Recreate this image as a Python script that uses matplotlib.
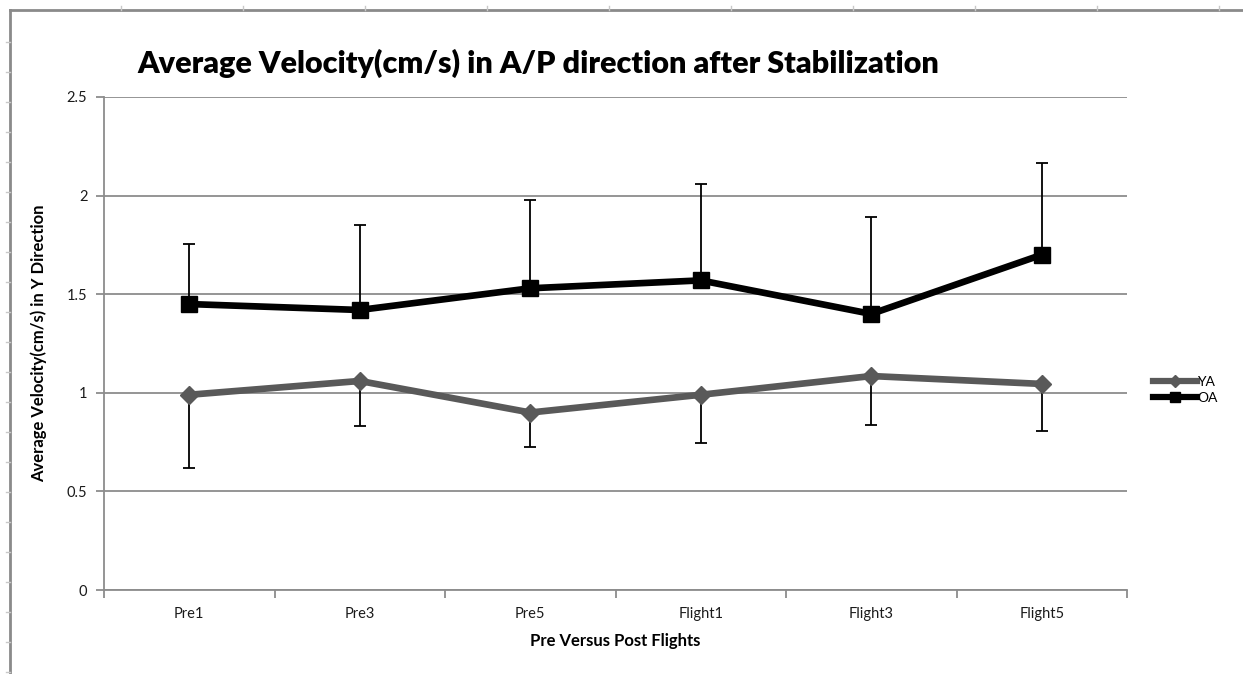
import numpy as np
import matplotlib.pyplot as plt
from matplotlib.lines import Line2D

plt.rcParams['font.family'] = ['Lato', 'DejaVu Sans']

categories = ['Pre1', 'Pre3', 'Pre5', 'Flight1', 'Flight3', 'Flight5']

ya_mean = [0.99, 1.06, 0.90, 0.99, 1.085, 1.045]
ya_err_low = [0.37, 0.23, 0.175, 0.245, 0.25, 0.24]

oa_mean = [1.45, 1.42, 1.53, 1.57, 1.40, 1.70]
oa_err_up = [0.305, 0.43, 0.45, 0.49, 0.49, 0.465]

y_ticks = [0, 0.5, 1, 1.5, 2, 2.5]
y_tick_labels = ['0', '0.5', '1', '1.5', '2', '2.5']

grid_col = '#8c8c8c'
ya_col = '#595959'
oa_col = '#000000'

fig = plt.figure(figsize=(12.43, 6.74), dpi=100)
ax = fig.add_axes([104 / 1243, 1 - 590 / 674, (1127 - 104) / 1243, (590 - 97) / 674])

x = np.arange(len(categories))
zeros = np.zeros(len(categories))

# error bars first so the markers sit on top of them
ax.errorbar(x, oa_mean, yerr=[zeros, oa_err_up], fmt='none', ecolor='black',
            elinewidth=1.3, capsize=4, capthick=1.3, zorder=3)
ax.errorbar(x, ya_mean, yerr=[ya_err_low, zeros], fmt='none', ecolor='black',
            elinewidth=1.3, capsize=4, capthick=1.3, zorder=3)

ax.plot(x, ya_mean, color=ya_col, lw=4.8, marker='D', ms=9, mfc=ya_col, mec=ya_col,
        zorder=4, label='YA')
ax.plot(x, oa_mean, color=oa_col, lw=4.8, marker='s', ms=11, mfc=oa_col, mec=oa_col,
        zorder=5, label='OA')

ax.set_xlim(-0.5, len(categories) - 0.5)
ax.set_ylim(0, 2.5)

ax.set_yticks(y_ticks)
ax.set_yticklabels(y_tick_labels)
ax.set_xticks(np.arange(-0.5, len(categories), 1))
ax.set_xticklabels([])
ax.set_xticks(x, minor=True)
ax.set_xticklabels(categories, minor=True)

ax.tick_params(axis='x', which='major', length=6, width=1.3, color=grid_col)
ax.tick_params(axis='x', which='minor', length=0, pad=12, labelsize=10.5, labelcolor='#1a1a1a')
ax.tick_params(axis='y', length=6, width=1.3, color=grid_col, labelsize=10.5, labelcolor='#1a1a1a', pad=6)

ax.yaxis.grid(True, color=grid_col, lw=1.3)
ax.set_axisbelow(True)
for side in ('top', 'right'):
    ax.spines[side].set_visible(False)
for side in ('left', 'bottom'):
    ax.spines[side].set_color(grid_col)
    ax.spines[side].set_linewidth(1.3)

ax.set_ylabel('Average Velocity(cm/s) in Y Direction', fontsize=12, fontweight='bold', labelpad=14)
ax.set_xlabel('Pre Versus Post Flights', fontsize=12, fontweight='bold', labelpad=9)

fig.text(137 / 1243, 1 - 63 / 674, 'Average Velocity(cm/s) in A/P direction after Stabilization',
         fontsize=22, fontweight='heavy', ha='left', va='center')

handles = [
    Line2D([], [], color=ya_col, lw=4.5, marker='D', ms=6, mfc=ya_col, mec=ya_col),
    Line2D([], [], color=oa_col, lw=4.5, marker='s', ms=7, mfc=oa_col, mec=oa_col),
]
fig.legend(handles, ['YA', 'OA'], loc='center left', bbox_to_anchor=(1140 / 1243, 1 - 390 / 674),
           frameon=False, fontsize=10, handlelength=3.2, handletextpad=0.0, labelspacing=0.3)

# spreadsheet frame around the chart
frame_col = '#8a8a8a'
fig.add_artist(Line2D([10 / 1243, 10 / 1243], [0, 1 - 10 / 674], color=frame_col, lw=2))
fig.add_artist(Line2D([10 / 1243, 1], [1 - 10 / 674, 1 - 10 / 674], color=frame_col, lw=2))
for tx in np.arange(121, 1243, 122):
    fig.add_artist(Line2D([tx / 1243, tx / 1243], [1 - 10 / 674, 1 - 6 / 674], color='#c8c8c8', lw=1))
for ty in np.arange(42, 674, 30):
    fig.add_artist(Line2D([6 / 1243, 10 / 1243], [1 - ty / 674, 1 - ty / 674], color='#c8c8c8', lw=1))

fig.savefig('out.png', dpi=100)
